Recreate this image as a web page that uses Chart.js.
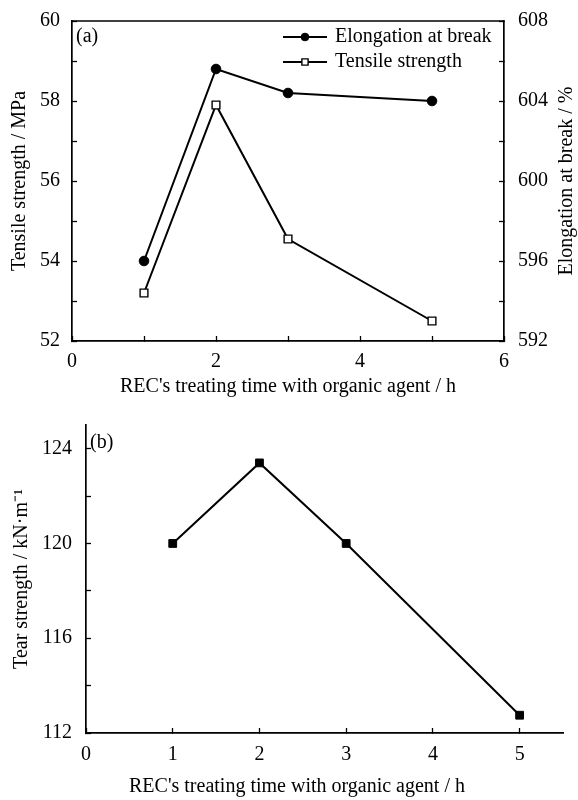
<!DOCTYPE html>
<html>
<head>
<meta charset="utf-8">
<script src="https://cdn.jsdelivr.net/npm/chart.js@4/dist/chart.umd.min.js"></script>
<style>
    body { margin: 0; background: #fff; }
    canvas { position: absolute; left: 0; }
    #chartA { top: 0; }
    #chartB { top: 400px; }
</style>
</head>
<body>
<canvas id="chartA" width="578" height="400"></canvas>
<canvas id="chartB" width="578" height="400"></canvas>
<script>
// panel (a)
const hoursA = [1, 2, 3, 5];
const elongation = [596.0, 605.6, 604.4, 604.0];
const tensile = [53.2, 57.9, 54.55, 52.5];
// panel (b)
const hoursB = [1, 2, 3, 5];
const tear = [120.0, 123.4, 120.0, 112.75];

const xTitle = "REC's treating time with organic agent / h";

const serif = "'Liberation Serif', 'Times New Roman', serif";
Chart.defaults.font.family = serif;
Chart.defaults.font.size = 20;
Chart.defaults.color = '#000';
Chart.defaults.animation = false;

function pairs(xs, ys) {
    return xs.map((x, i) => ({ x: x, y: ys[i] }));
}

// fixed axis box sizes, and no extra label padding pushing the plot area
function fixSize(w, h) {
    return function (scale) {
        if (w !== null) scale.width = w;
        if (h !== null) scale.height = h;
        scale.paddingTop = 0;
        scale.paddingBottom = 0;
    };
}

const axisGrid = {
    drawOnChartArea: false,
    drawTicks: true,
    tickLength: -5,
    tickColor: '#000',
    tickWidth: 1.3
};
const axisBorder = { display: true, color: '#000', width: 1.7 };

// top edge of the box in (a)
const topEdge = {
    id: 'topEdge',
    afterDraw(chart) {
        const { ctx, chartArea: a } = chart;
        ctx.save();
        ctx.strokeStyle = '#000';
        ctx.lineWidth = 1.7;
        ctx.beginPath();
        ctx.moveTo(a.left, a.top);
        ctx.lineTo(a.right, a.top);
        ctx.stroke();
        ctx.restore();
    }
};

// panel letter, right-hand title (a), off-centre bottom title (b)
const notes = {
    id: 'notes',
    afterDraw(chart, args, opts) {
        const { ctx, chartArea: a } = chart;
        ctx.save();
        ctx.fillStyle = '#000';
        ctx.font = '20px ' + serif;
        ctx.textBaseline = 'middle';
        ctx.textAlign = 'left';
        ctx.fillText(opts.letter, a.left + opts.dx, a.top + opts.dy);
        if (opts.bottomTitle) {
            ctx.textAlign = 'center';
            ctx.fillText(opts.bottomTitle, 297, 387);
        }
        if (opts.rightTitle) {
            ctx.translate(567, (a.top + a.bottom) / 2);
            ctx.rotate(-Math.PI / 2);
            ctx.textAlign = 'center';
            ctx.fillText(opts.rightTitle, 0, 0);
        }
        ctx.restore();
    }
};

// legend drawn inside the plot area
const insideLegend = {
    id: 'insideLegend',
    afterDraw(chart) {
        const { ctx, chartArea: a } = chart;
        ctx.save();
        chart.data.datasets.forEach((ds, i) => {
            const x0 = a.left + 211;
            const y = a.top + 16 + i * 25;
            ctx.strokeStyle = ds.borderColor;
            ctx.lineWidth = ds.borderWidth;
            ctx.beginPath();
            ctx.moveTo(x0, y);
            ctx.lineTo(x0 + 44, y);
            ctx.stroke();
            ctx.fillStyle = ds.pointBackgroundColor;
            ctx.strokeStyle = ds.borderColor;
            ctx.lineWidth = ds.pointBorderWidth;
            Chart.helpers.drawPoint(ctx, {
                pointStyle: ds.pointStyle,
                radius: ds.pointRadius * 0.8,
                rotation: 0,
                borderWidth: ds.pointBorderWidth
            }, x0 + 22, y);
            ctx.fillStyle = '#000';
            ctx.font = '20px ' + serif;
            ctx.textAlign = 'left';
            ctx.textBaseline = 'middle';
            ctx.fillText(ds.label, x0 + 52, y);
        });
        ctx.restore();
    }
};

new Chart(document.getElementById('chartA'), {
    type: 'scatter',
    data: {
        datasets: [{
            label: 'Elongation at break',
            data: pairs(hoursA, elongation),
            yAxisID: 'y1',
            showLine: true,
            tension: 0,
            borderColor: '#000',
            borderWidth: 2,
            pointStyle: 'circle',
            pointRadius: 4.8,
            pointBackgroundColor: '#000',
            pointBorderWidth: 1
        }, {
            label: 'Tensile strength',
            data: pairs(hoursA, tensile),
            yAxisID: 'y',
            showLine: true,
            tension: 0,
            borderColor: '#000',
            borderWidth: 2,
            pointStyle: 'rect',
            pointRadius: 5.5,
            pointBackgroundColor: '#fff',
            pointBorderWidth: 1.4
        }]
    },
    options: {
        responsive: false,
        layout: { padding: { top: 21, left: 0, right: 0, bottom: 0 } },
        plugins: {
            legend: { display: false },
            tooltip: { enabled: false },
            notes: { letter: '(a)', dx: 4, dy: 16, rightTitle: 'Elongation at break / %' }
        },
        scales: {
            x: {
                type: 'linear',
                min: 0, max: 6,
                afterFit: fixSize(null, 59),
                grid: axisGrid,
                border: axisBorder,
                ticks: {
                    stepSize: 1,
                    autoSkip: false,
                    padding: 14,
                    maxRotation: 0,
                    callback: v => (v % 2 === 0 ? v : '')
                },
                title: {
                    display: true,
                    text: xTitle,
                    padding: { top: 0, bottom: 1 }
                }
            },
            y: {
                position: 'left',
                min: 52, max: 60,
                afterFit: fixSize(72, null),
                grid: axisGrid,
                border: axisBorder,
                ticks: {
                    stepSize: 1,
                    autoSkip: false,
                    padding: 17,
                    callback: v => (v % 2 === 0 ? v : '')
                },
                title: {
                    display: true,
                    text: 'Tensile strength / MPa',
                    padding: { top: 8, bottom: 0 }
                }
            },
            y1: {
                position: 'right',
                min: 592, max: 608,
                afterFit: fixSize(74, null),
                grid: axisGrid,
                border: axisBorder,
                ticks: {
                    stepSize: 2,
                    autoSkip: false,
                    padding: 19,
                    callback: v => (v % 4 === 0 ? v : '')
                }
            }
        }
    },
    plugins: [topEdge, notes, insideLegend]
});

new Chart(document.getElementById('chartB'), {
    type: 'scatter',
    data: {
        datasets: [{
            label: 'Tear strength',
            data: pairs(hoursB, tear),
            showLine: true,
            tension: 0,
            borderColor: '#000',
            borderWidth: 2,
            pointStyle: 'rect',
            pointRadius: 5.5,
            pointBackgroundColor: '#000',
            pointBorderWidth: 1
        }]
    },
    options: {
        responsive: false,
        layout: { padding: { top: 25, left: 0, right: 15, bottom: 0 } },
        plugins: {
            legend: { display: false },
            tooltip: { enabled: false },
            notes: { letter: '(b)', dx: 4, dy: 18, bottomTitle: xTitle }
        },
        scales: {
            x: {
                type: 'linear',
                min: 0, max: 5.5,
                afterFit: fixSize(null, 67),
                grid: axisGrid,
                border: axisBorder,
                ticks: {
                    stepSize: 1,
                    autoSkip: false,
                    includeBounds: false,
                    padding: 15,
                    maxRotation: 0
                }
            },
            y: {
                position: 'left',
                min: 112, max: 125,
                afterFit: fixSize(86, null),
                grid: axisGrid,
                border: axisBorder,
                ticks: {
                    stepSize: 2,
                    autoSkip: false,
                    includeBounds: false,
                    padding: 19,
                    callback: v => (v % 4 === 0 ? v : '')
                },
                title: {
                    display: true,
                    text: 'Tear strength / kN·m⁻¹',
                    padding: { top: 10, bottom: 0 }
                }
            }
        }
    },
    plugins: [notes]
});
</script>
</body>
</html>
